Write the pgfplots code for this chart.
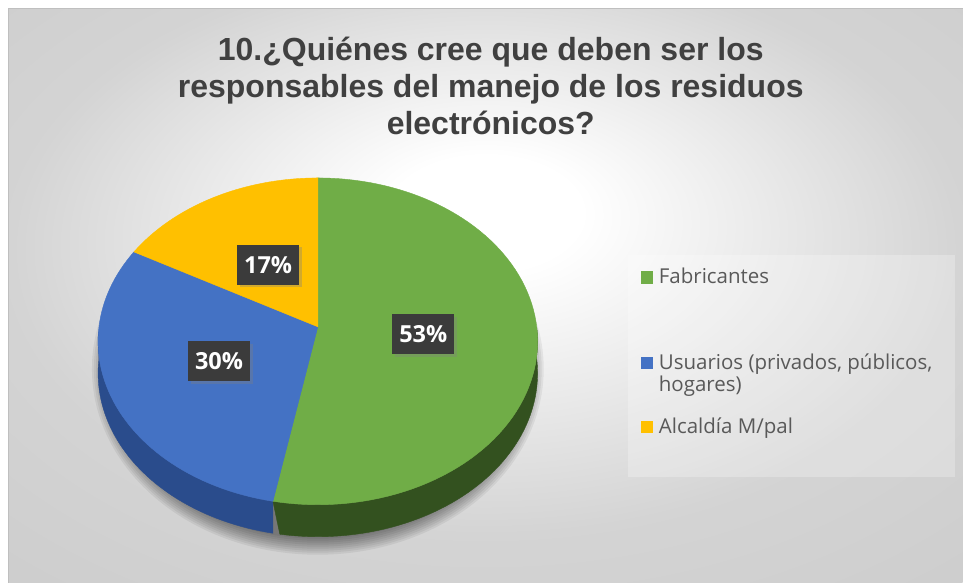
\documentclass[border=0pt]{standalone}
\usepackage{fontspec}
\setmainfont{Open Sans}
\newfontfamily\titlefont{Liberation Sans}
\usepackage{pgfplots}
\usepackage{pgfplotstable}
\pgfplotsset{compat=1.18}
\usetikzlibrary{shadows}

\definecolor{cGreen}{HTML}{70AD47}
\definecolor{cBlue}{HTML}{4472C4}
\definecolor{cYellow}{HTML}{FFC000}
\definecolor{cGreenS}{HTML}{33511F}
\definecolor{cBlueS}{HTML}{2A4C8C}
\definecolor{titlecol}{HTML}{404040}
\definecolor{legcol}{HTML}{595959}
\definecolor{boxcol}{HTML}{3B3B3B}

\pgfdeclareradialshading{bgshade}{\pgfpoint{0bp}{8bp}}{color(0bp)=(white); color(5bp)=(white); color(25bp)=(black!17); color(50bp)=(black!22)}

% share of each answer, in percent
\pgfplotstableread{
value
53
30
17
}\piedata

\begin{document}
\begin{tikzpicture}[
  lab/.style={fill=boxcol, text=white, font=\bfseries\fontsize{23.5bp}{26bp}\selectfont,
    minimum width=62bp, minimum height=40bp, inner sep=0pt,
    drop shadow={shadow xshift=2.5bp, shadow yshift=-2.5bp, opacity=0.35}},
  leg/.style={anchor=base west, text=legcol, font=\fontsize{20.5bp}{22bp}\selectfont, inner sep=0pt},
  ttl/.style={anchor=base, text=titlecol, font=\titlefont\bfseries\fontsize{32bp}{37bp}\selectfont},
]
\pgfplotstablegetelem{0}{value}\of\piedata \let\vA\pgfplotsretval
\pgfplotstablegetelem{1}{value}\of\piedata \let\vB\pgfplotsretval
\pgfplotstablegetelem{2}{value}\of\piedata \let\vC\pgfplotsretval
% slice angles, clockwise from 12 o'clock
\pgfmathsetmacro\aA{0}
\pgfmathsetmacro\aB{3.6*\vA}
\pgfmathsetmacro\aC{\aB+3.6*\vB}
\pgfmathsetmacro\aD{\aC+3.6*\vC}
% visible part of the side wall: 90..270
\pgfmathsetmacro\gS{max(90,\aA)}
\pgfmathsetmacro\gE{min(270,\aB)}
\pgfmathsetmacro\bS{max(90,\aB)}
\pgfmathsetmacro\bE{min(270,\aC)}
% label positions
\pgfmathsetmacro\mA{(\aA+\aB)/2}
\pgfmathsetmacro\mB{(\aB+\aC)/2}
\pgfmathsetmacro\mC{(\aC+\aD)/2}
\pgfmathsetmacro\lxA{318+0.48*219*sin(\mA)/(1+0.0888*cos(\mA))}
\pgfmathsetmacro\lyA{256+0.48*162.2*cos(\mA)/(1+0.0888*cos(\mA))}
\pgfmathsetmacro\lxB{318+0.48*219*sin(\mB)/(1+0.0888*cos(\mB))}
\pgfmathsetmacro\lyB{256+0.48*162.2*cos(\mB)/(1+0.0888*cos(\mB))}
\pgfmathsetmacro\lxC{318+0.48*219*sin(\mC)/(1+0.0888*cos(\mC))}
\pgfmathsetmacro\lyC{256+0.48*162.2*cos(\mC)/(1+0.0888*cos(\mC))}

\begin{axis}[
  width=963bp, height=583bp, scale only axis,
  xmin=0, xmax=963, ymin=0, ymax=583,
  hide axis, clip=false,
  declare function={
    pX(\u)=318+219*sin(\u)/(1+0.0888*cos(\u));
    pY(\u)=256+162.2*cos(\u)/(1+0.0888*cos(\u));
    tS(\s,\a,\b)=ifthenelse(\s<1,\a+(\b-\a)*\s,\b-(\b-\a)*(\s-1));
    dS(\s)=ifthenelse(\s<1,0,32);
  },
]
% background
\fill[white] (axis cs:0,0) rectangle (axis cs:963,583);
\shade[shading=bgshade] (axis cs:9,0) rectangle (axis cs:963,574);
\draw[black!25, line width=1bp] (axis cs:963,574) -- (axis cs:9,574) -- (axis cs:9,0);

% title
\node[ttl] at (axis cs:491,522) {10.¿Quiénes cree que deben ser los};
\node[ttl] at (axis cs:491,485) {responsables del manejo de los residuos};
\node[ttl] at (axis cs:491,448) {electrónicos?};

% soft shadow under the pie
\pgfplotsinvokeforeach{0,...,8}{
  \fill[black, opacity=0.06] (axis cs:318,214) ellipse [x radius={210+2*#1}, y radius={170+2*#1}];
}

% side walls
\addplot[fill=cBlueS, draw=cBlueS, line width=0.4bp, domain=0:2, samples=101, variable=\s]
  ({pX(tS(\s,\bS,\bE))}, {pY(tS(\s,\bS,\bE))-dS(\s)}) -- cycle;
\addplot[fill=cGreenS, draw=cGreenS, line width=0.4bp, domain=0:2, samples=121, variable=\s]
  ({pX(tS(\s,\gS,\gE))}, {pY(tS(\s,\gS,\gE))-dS(\s)}) -- cycle;

% top faces
\addplot[fill=cGreen, draw=cGreen, line width=0.4bp, domain=\aA:\aB, samples=90, variable=\t]
  ({pX(\t)}, {pY(\t)}) -- (axis cs:318,256) -- cycle;
\addplot[fill=cBlue, draw=cBlue, line width=0.4bp, domain=\aB:\aC, samples=60, variable=\t]
  ({pX(\t)}, {pY(\t)}) -- (axis cs:318,256) -- cycle;
\addplot[fill=cYellow, draw=cYellow, line width=0.4bp, domain=\aC:\aD, samples=40, variable=\t]
  ({pX(\t)}, {pY(\t)}) -- (axis cs:318,256) -- cycle;

% data labels
\node[lab] at (axis cs:\lxA,\lyA) {\vA\%};
\node[lab] at (axis cs:\lxB,\lyB) {\vB\%};
\node[lab] at (axis cs:\lxC,\lyC) {\vC\%};

% legend
\fill[white, opacity=0.25] (axis cs:628,106) rectangle (axis cs:955,328);
\fill[cGreen]  (axis cs:641.5,299) rectangle (axis cs:653.5,311.5);
\fill[cBlue]   (axis cs:641.5,213.5) rectangle (axis cs:653.5,226);
\fill[cYellow] (axis cs:641.5,149.5) rectangle (axis cs:653.5,162);
\node[leg] at (axis cs:659,299) {Fabricantes};
\node[leg] at (axis cs:659,213) {Usuarios (privados, públicos,};
\node[leg] at (axis cs:659,191) {hogares)};
\node[leg] at (axis cs:659,149) {Alcaldía M/pal};
\end{axis}
\end{tikzpicture}
\end{document}
